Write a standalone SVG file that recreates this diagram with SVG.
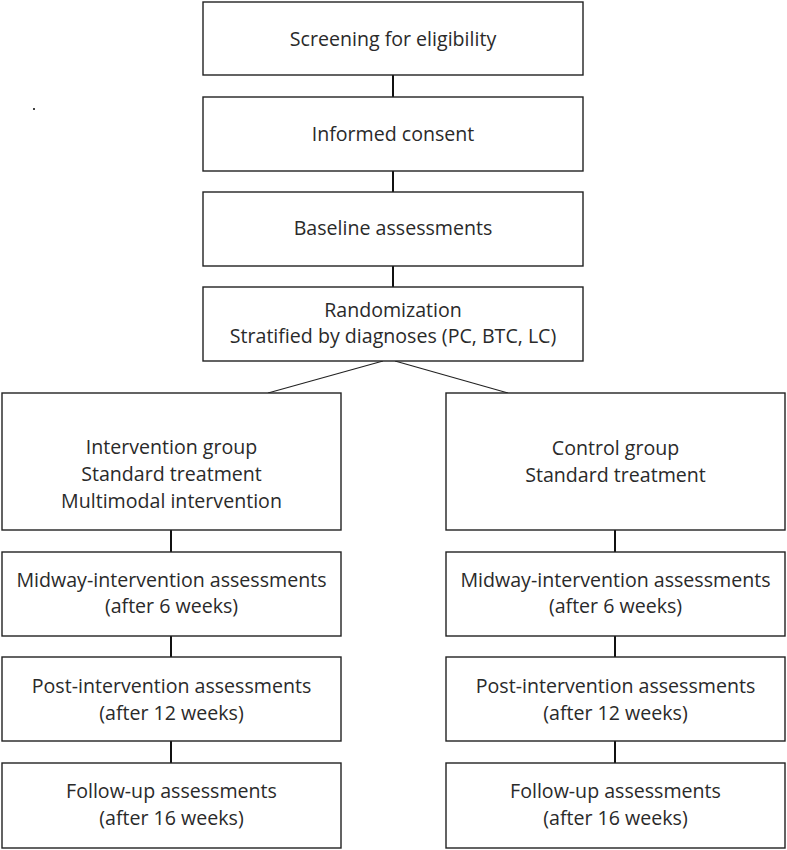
<svg xmlns="http://www.w3.org/2000/svg" width="787" height="850" viewBox="0 0 787 850">
<style>
.box{fill:#fff;stroke:#222;stroke-width:1.4}
.t{font-family:"Open Sans","Noto Sans",sans-serif;font-size:19.6px;fill:#2a2a2a;text-anchor:middle}
.c{stroke:#111;stroke-width:2;fill:none}
.d{stroke:#222;stroke-width:1.2;fill:none}
</style>
<rect width="787" height="850" fill="#fff"/>
<rect x="33" y="108" width="2" height="2" fill="#444"/>
<g id="connectors">
<line class="c" x1="393" y1="75" x2="393" y2="97"/>
<line class="c" x1="393" y1="171" x2="393" y2="192"/>
<line class="c" x1="393" y1="266" x2="393" y2="287"/>
<line class="d" x1="383" y1="361" x2="268" y2="393"/>
<line class="d" x1="395" y1="361" x2="508" y2="393"/>
<line class="c" x1="171" y1="530" x2="171" y2="552"/>
<line class="c" x1="171" y1="636" x2="171" y2="657"/>
<line class="c" x1="171" y1="741" x2="171" y2="763"/>
<line class="c" x1="615" y1="530" x2="615" y2="552"/>
<line class="c" x1="615" y1="636" x2="615" y2="657"/>
<line class="c" x1="615" y1="741" x2="615" y2="763"/>
</g>
<g id="screening">
<rect class="box" x="203" y="2" width="380" height="73"/>
<text class="t" x="393" y="46">Screening for eligibility</text>
</g>
<g id="consent">
<rect class="box" x="203" y="97" width="380" height="74"/>
<text class="t" x="393" y="141">Informed consent</text>
</g>
<g id="baseline">
<rect class="box" x="203" y="192" width="380" height="74"/>
<text class="t" x="393" y="235">Baseline assessments</text>
</g>
<g id="randomization">
<rect class="box" x="203" y="287" width="380" height="74"/>
<text class="t" x="393" y="317">Randomization</text>
<text class="t" x="393" y="343">Stratified by diagnoses (PC, BTC, LC)</text>
</g>
<g id="intervention">
<rect class="box" x="2" y="393" width="339" height="137"/>
<text class="t" x="171.5" y="454">Intervention group</text>
<text class="t" x="171.5" y="481">Standard treatment</text>
<text class="t" x="171.5" y="508">Multimodal intervention</text>
</g>
<g id="control">
<rect class="box" x="446" y="393" width="339" height="137"/>
<text class="t" x="615.5" y="455">Control group</text>
<text class="t" x="615.5" y="482">Standard treatment</text>
</g>
<g id="midway-left">
<rect class="box" x="2" y="552" width="339" height="84"/>
<text class="t" x="171.5" y="587">Midway-intervention assessments</text>
<text class="t" x="171.5" y="613">(after 6 weeks)</text>
</g>
<g id="midway-right">
<rect class="box" x="446" y="552" width="339" height="84"/>
<text class="t" x="615.5" y="587">Midway-intervention assessments</text>
<text class="t" x="615.5" y="613">(after 6 weeks)</text>
</g>
<g id="post-left">
<rect class="box" x="2" y="657" width="339" height="84"/>
<text class="t" x="171.5" y="693">Post-intervention assessments</text>
<text class="t" x="171.5" y="720">(after 12 weeks)</text>
</g>
<g id="post-right">
<rect class="box" x="446" y="657" width="339" height="84"/>
<text class="t" x="615.5" y="693">Post-intervention assessments</text>
<text class="t" x="615.5" y="720">(after 12 weeks)</text>
</g>
<g id="followup-left">
<rect class="box" x="2" y="763" width="339" height="85"/>
<text class="t" x="171.5" y="798">Follow-up assessments</text>
<text class="t" x="171.5" y="825">(after 16 weeks)</text>
</g>
<g id="followup-right">
<rect class="box" x="446" y="763" width="339" height="85"/>
<text class="t" x="615.5" y="798">Follow-up assessments</text>
<text class="t" x="615.5" y="825">(after 16 weeks)</text>
</g>
</svg>
